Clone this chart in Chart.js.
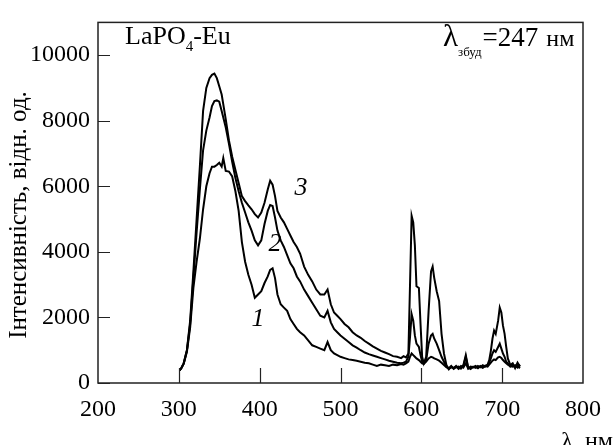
<!DOCTYPE html>
<html>
<head>
<meta charset="utf-8">
<script src="https://cdn.jsdelivr.net/npm/chart.js@4.4.0/dist/chart.umd.min.js"></script>
<style>
  html, body { margin: 0; padding: 0; background: #fff; }
  #wrap { width: 613px; height: 445px; }
</style>
</head>
<body>
<div id="wrap"><canvas id="chart" width="613" height="445"></canvas></div>
<script>
// wavelength, nm
const wavelength = [
  301, 303, 306, 310, 314, 318, 322, 326, 330, 334,
  338, 341, 344, 347, 350, 353, 355, 358, 362, 366,
  370, 374, 378, 382, 386, 390, 394, 398, 402, 406,
  410, 413, 416, 419, 422, 426, 430, 434, 438, 442,
  446, 450, 455, 460, 465, 470, 475, 480, 484, 488,
  492, 496, 500, 505, 510, 515, 520, 525, 530, 535,
  540, 545, 550, 555, 560, 565, 570, 575, 578, 581,
  584, 586, 588, 590, 592, 594, 597, 599, 601, 603,
  606, 609, 612, 614, 616, 619, 622, 625, 628, 631,
  634, 637, 640, 643, 646, 649, 652, 655, 658, 661,
  664, 667, 670, 673, 676, 679, 682, 684, 686, 688,
  690, 692, 695, 697, 699, 701, 703, 705, 707, 710,
  713, 716, 719, 722
];

const curve1 = [
  380, 450, 580, 950, 1700, 2900, 3700, 4400, 5300, 6000,
  6400, 6600, 6600, 6650, 6720, 6600, 6860, 6470, 6450, 6300,
  5850, 5250, 4300, 3700, 3300, 3000, 2600, 2700, 2800, 3050,
  3250, 3450, 3500, 3200, 2700, 2400, 2300, 2200, 1950, 1800,
  1650, 1550, 1450, 1300, 1150, 1100, 1050, 1000, 1250, 1000,
  900, 850, 800, 760, 720, 700, 680, 650, 620, 600,
  560, 520, 560, 540, 520, 560, 540, 580, 560, 600,
  650, 800, 900, 850, 800, 750, 700, 650, 600, 580,
  650, 750, 800, 780, 750, 720, 680, 620, 550, 480,
  430, 480, 460, 500, 450, 520, 470, 600, 440, 500,
  480, 520, 470, 500, 460, 520, 500, 560, 620, 680,
  720, 700, 780, 800, 760, 700, 650, 600, 560, 520,
  500, 540, 470, 560
];

const curve2 = [
  380, 450, 600, 1000, 1800, 3200, 4600, 5900, 7100, 7700,
  8100, 8450, 8600, 8620, 8580, 8300, 8100, 7800, 7300, 6750,
  6250, 5850, 5500, 5200, 4900, 4650, 4350, 4200, 4350, 4850,
  5250, 5430, 5400, 5050, 4650, 4350, 4150, 3900, 3650, 3500,
  3250, 3100, 2850, 2650, 2450, 2250, 2050, 2000, 2200, 1850,
  1650, 1550, 1450, 1350, 1250, 1150, 1080, 1000, 930, 880,
  840, 800, 760, 720, 680, 650, 620, 600, 620, 650,
  800, 1400, 2100, 1900, 1450, 1200, 1100, 850, 650, 600,
  700, 1200, 1450, 1500, 1350, 1200, 1000, 800, 650, 500,
  450, 520, 430, 480, 500, 440, 520, 800, 450, 480,
  470, 500, 450, 520, 480, 530, 540, 620, 750, 900,
  1000, 950, 1100, 1200, 1050, 900, 800, 650, 600, 500,
  560, 480, 520, 450
];

const curve3 = [
  380, 450, 600, 1000, 1900, 3400, 5000, 6600, 8300, 9000,
  9300, 9400, 9440, 9300, 9050, 8800, 8500, 8050, 7400, 6900,
  6500, 6100, 5700, 5550, 5420, 5300, 5150, 5050, 5200, 5500,
  5900, 6170, 6050, 5700, 5250, 5050, 4900, 4700, 4500, 4300,
  4150, 3950, 3550, 3300, 3100, 2850, 2700, 2700, 2850, 2400,
  2150, 2050, 1950, 1800, 1700, 1550, 1450, 1380, 1280, 1200,
  1120, 1050, 980, 930, 880, 820, 800, 760, 820, 780,
  900, 3000, 5100, 4900, 4200, 2950, 2900, 1800, 800, 600,
  800, 2200, 3400, 3550, 3200, 2800, 2500, 1500, 900, 550,
  420, 500, 450, 520, 430, 480, 540, 850, 470, 430,
  500, 460, 520, 480, 540, 500, 560, 700, 980, 1350,
  1600, 1500, 1900, 2300, 2150, 1750, 1500, 1100, 750, 550,
  600, 450, 620, 500
];

const xTicks = [300, 400, 500, 600, 700];
const yTicks = [0, 2000, 4000, 6000, 8000, 10000];

// curve numbers, placed in data units
const curveLabels = [
  { text: "1", x: 398, y: 1960 },
  { text: "2", x: 419, y: 4240 },
  { text: "3", x: 451, y: 5930 }
];

const FONT = '"Liberation Serif", serif';

const framePlugin = {
  id: "frame",
  afterDraw(chart) {
    const { ctx, chartArea: a, scales: { x, y } } = chart;
    ctx.save();

    // box round the plot
    ctx.strokeStyle = "#222";
    ctx.lineWidth = 1.5;
    ctx.strokeRect(a.left, a.top, a.right - a.left, a.bottom - a.top);

    // ticks pointing inward
    ctx.lineWidth = 1.2;
    ctx.beginPath();
    xTicks.forEach(v => {
      const px = Math.round(x.getPixelForValue(v)) + 0.5;
      ctx.moveTo(px, a.bottom);
      ctx.lineTo(px, a.bottom - 15);
    });
    yTicks.forEach(v => {
      const py = Math.round(y.getPixelForValue(v)) + 0.5;
      ctx.moveTo(a.left, py);
      ctx.lineTo(a.left + 12, py);
    });
    ctx.stroke();

    ctx.fillStyle = "#000";
    ctx.textBaseline = "alphabetic";
    ctx.textAlign = "left";

    // LaPO4-Eu
    let tx = 125;
    const base = 44;
    ctx.font = "26px " + FONT;
    ctx.fillText("LaPO", tx, base);
    tx += ctx.measureText("LaPO").width;
    ctx.font = "15px " + FONT;
    ctx.fillText("4", tx, base + 7);
    tx += ctx.measureText("4").width;
    ctx.font = "26px " + FONT;
    ctx.fillText("-Eu", tx, base);

    // λзбуд = 247 нм
    tx = 443;
    ctx.font = "31px " + FONT;
    ctx.fillText("λ", tx, base + 2);
    tx += ctx.measureText("λ").width;
    ctx.font = "13px " + FONT;
    ctx.fillText("збуд", tx, base + 12);
    tx += ctx.measureText("збуд").width + 1;
    ctx.font = "27px " + FONT;
    ctx.fillText("=247", tx, base + 2);
    tx += ctx.measureText("=247").width + 8;
    ctx.font = "24px " + FONT;
    ctx.fillText("нм", tx, base + 2);

    // curve numbers
    ctx.font = "italic 26px " + FONT;
    ctx.textAlign = "center";
    ctx.textBaseline = "middle";
    curveLabels.forEach(l => {
      ctx.fillText(l.text, x.getPixelForValue(l.x), y.getPixelForValue(l.y));
    });

    // y axis title
    ctx.save();
    ctx.translate(19, 215);
    ctx.rotate(-Math.PI / 2);
    ctx.font = "25px " + FONT;
    ctx.fillText("Інтенсивність, відн. од.", 0, 0);
    ctx.restore();

    // x axis title, partly below the canvas edge as in the original
    ctx.font = "24px " + FONT;
    ctx.textAlign = "right";
    ctx.textBaseline = "alphabetic";
    ctx.fillText("λ, нм", 613, 448);

    ctx.restore();
  }
};

const mkData = vals => wavelength.map((w, i) => ({ x: w, y: vals[i] }));

const lineStyle = {
  borderColor: "#000",
  borderWidth: 2,
  pointRadius: 0,
  fill: false,
  tension: 0
};

new Chart(document.getElementById("chart"), {
  type: "line",
  data: {
    datasets: [
      { label: "3", data: mkData(curve3), ...lineStyle },
      { label: "2", data: mkData(curve2), ...lineStyle },
      { label: "1", data: mkData(curve1), ...lineStyle }
    ]
  },
  options: {
    responsive: false,
    devicePixelRatio: 1,
    animation: false,
    layout: { padding: { left: 0, right: 15, top: 13, bottom: 0 } },
    plugins: {
      legend: { display: false },
      tooltip: { enabled: false }
    },
    scales: {
      x: {
        type: "linear",
        min: 200,
        max: 800,
        grid: { display: false, drawTicks: false },
        border: { display: false },
        ticks: {
          stepSize: 100,
          autoSkip: false,
          maxRotation: 0,
          padding: 12,
          color: "#000",
          font: { family: FONT, size: 24 },
          callback: v => String(v)
        },
        afterFit: s => { s.height = 62; }
      },
      y: {
        min: 0,
        max: 11000,
        grid: { display: false, drawTicks: false },
        border: { display: false },
        afterBuildTicks: s => { s.ticks = yTicks.map(v => ({ value: v })); },
        ticks: {
          padding: 8,
          color: "#000",
          font: { family: FONT, size: 24 },
          callback: v => String(v)
        },
        afterFit: s => { s.width = 98; }
      }
    }
  },
  plugins: [framePlugin]
});
</script>
</body>
</html>
